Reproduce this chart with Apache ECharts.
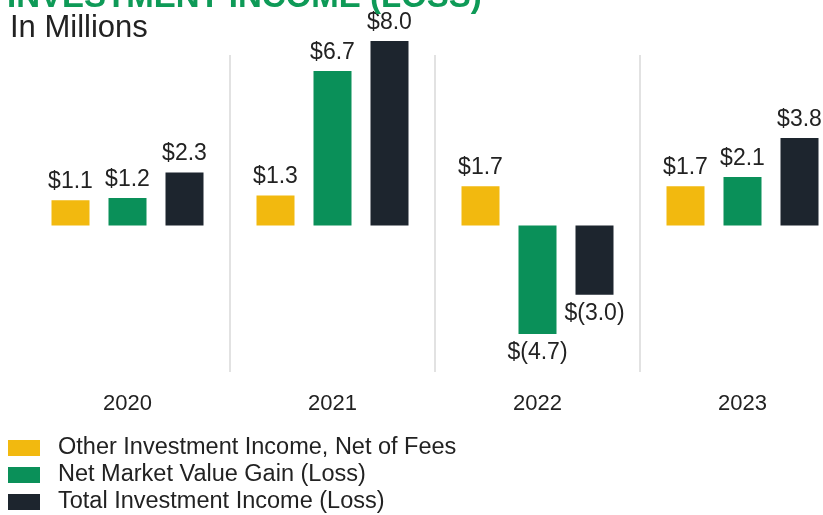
<!DOCTYPE html>
<html>
<head>
<meta charset="utf-8">
<script src="https://cdn.jsdelivr.net/npm/echarts@6/dist/echarts.min.js"></script>
<style>
  html, body { margin: 0; padding: 0; background: #fff; }
</style>
</head>
<body>
<div id="myChart" style="width: 823px; height: 515px;"></div>
<script>
  // values in millions
  const years = ['2020', '2021', '2022', '2023'];
  const otherIncome = [1.1, 1.3, 1.7, 1.7];
  const marketGain = [1.2, 6.7, -4.7, 2.1];
  const totalIncome = [2.3, 8.0, -3.0, 3.8];
  const seriesNames = [
    'Other Investment Income, Net of Fees',
    'Net Market Value Gain (Loss)',
    'Total Investment Income (Loss)'
  ];

  function money(v) {
    return v < 0 ? '$(' + Math.abs(v).toFixed(1) + ')' : '$' + v.toFixed(1);
  }

  function toItems(arr) {
    return arr.map(function (v) {
      return { value: v, label: { position: v < 0 ? 'bottom' : 'top' } };
    });
  }

  function barSeries(name, arr, color) {
    return {
      name: name,
      type: 'bar',
      xAxisIndex: 0,
      yAxisIndex: 0,
      barWidth: 38,
      barGap: '50%',
      itemStyle: { color: color },
      label: {
        show: true,
        distance: 7,
        color: '#222',
        fontSize: 23,
        fontFamily: 'Liberation Sans',
        formatter: function (p) { return money(p.value); }
      },
      data: toItems(arr)
    };
  }

  let myChart = echarts.init(document.getElementById('myChart'));

  myChart.setOption({
    animation: false,
    backgroundColor: '#fff',
    title: [{
      text: 'INVESTMENT INCOME (LOSS)',
      left: 7,
      top: -19,
      padding: 0,
      textStyle: {
        color: '#0E9A57',
        fontSize: 33,
        fontWeight: 'bold',
        fontFamily: 'Liberation Sans'
      }
    },
    {
      text: 'In Millions',
      left: 10,
      top: 13,
      padding: 0,
      textStyle: {
        color: '#222',
        fontSize: 31,
        fontWeight: 'normal',
        fontFamily: 'Liberation Sans'
      }
    }],
    legend: {
      orient: 'vertical',
      left: 8,
      top: 436,
      padding: 0,
      itemWidth: 32,
      itemHeight: 16,
      itemGap: 3,
      icon: 'rect',
      data: seriesNames,
      textStyle: {
        color: '#222',
        fontSize: 23.5,
        lineHeight: 24,
        fontFamily: 'Liberation Sans',
        padding: [0, 0, 0, 13]
      }
    },
    grid: [{
      left: 25,
      width: 820,
      top: 41,
      height: 293,
      outerBoundsMode: 'none'
    },
    {
      // only used for the year separators and labels
      left: 25,
      width: 820,
      top: 55,
      height: 317,
      outerBoundsMode: 'none'
    }],
    xAxis: [{
      type: 'category',
      gridIndex: 0,
      data: years,
      show: false
    },
    {
      type: 'category',
      gridIndex: 1,
      data: years,
      axisLine: { show: false },
      axisTick: { show: false },
      splitLine: {
        show: true,
        interval: function (i) { return i > 0; },
        lineStyle: { color: '#d9d9d9', width: 1.5 }
      },
      axisLabel: {
        margin: 21,
        color: '#222',
        fontSize: 22,
        fontFamily: 'Liberation Sans'
      }
    }],
    yAxis: [{
      type: 'value',
      gridIndex: 0,
      min: -4.7,
      max: 8,
      show: false
    },
    {
      type: 'value',
      gridIndex: 1,
      min: 0,
      max: 1,
      show: false
    }],
    series: [
      barSeries(seriesNames[0], otherIncome, '#F2B90F'),
      barSeries(seriesNames[1], marketGain, '#0A9059'),
      barSeries(seriesNames[2], totalIncome, '#1D252E')
    ]
  });
</script>
</body>
</html>
